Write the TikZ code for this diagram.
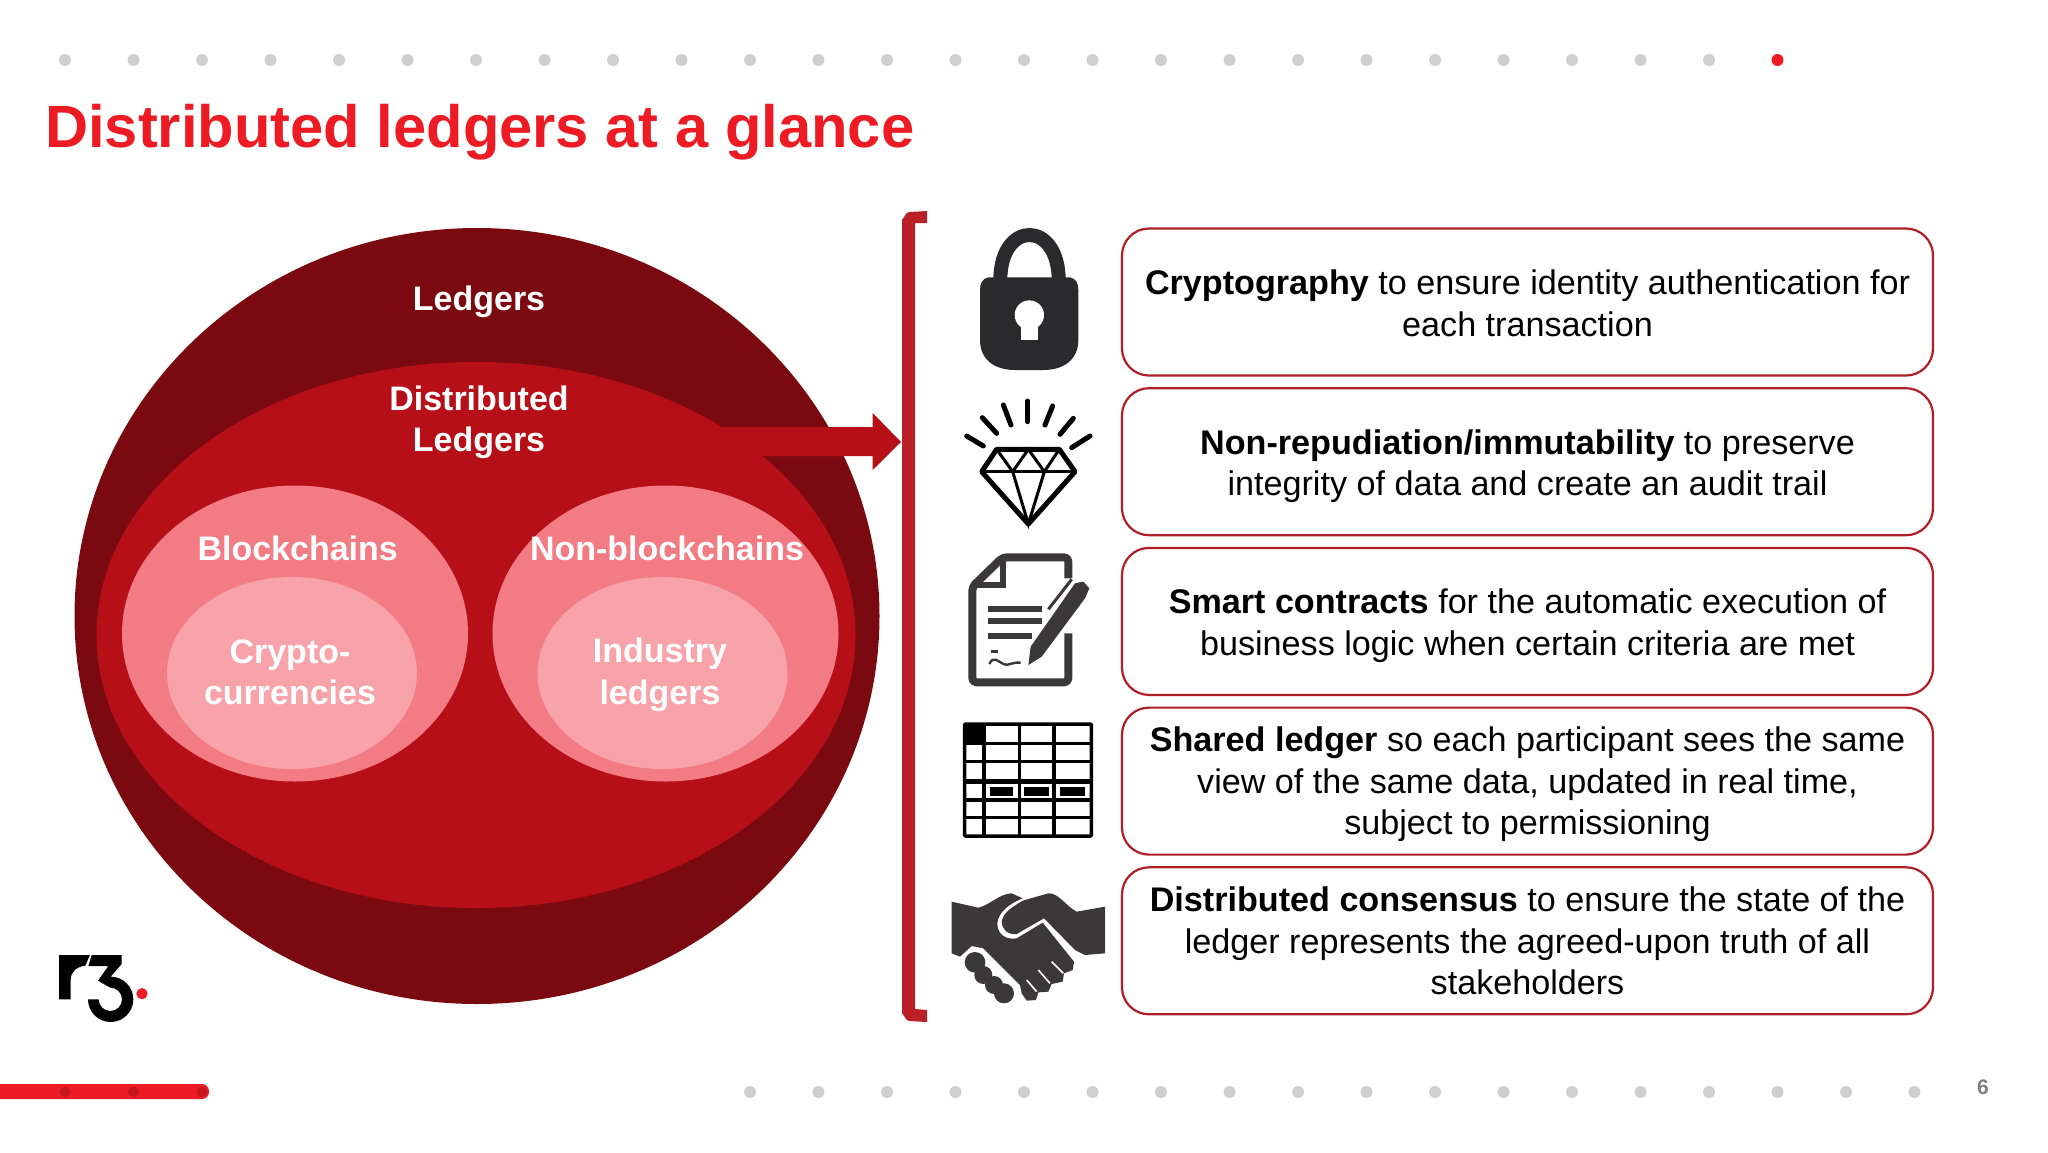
\documentclass[tikz,border=0pt]{standalone}
\usepackage{fontspec}
\setmainfont{Liberation Sans}
\usetikzlibrary{positioning,shapes.geometric}
\definecolor{slidered}{HTML}{ED1C24}
\definecolor{deepred}{HTML}{7B0A10}
\definecolor{midred}{HTML}{B70F17}
\definecolor{pinkred}{HTML}{F37B84}
\definecolor{lightred}{HTML}{F8A2A9}
\definecolor{bracketred}{HTML}{BB2026}
\definecolor{boxred}{HTML}{B01F28}
\definecolor{dotgrey}{HTML}{CFCFCF}
\definecolor{bardot}{HTML}{C8161D}
\definecolor{lockdark}{HTML}{2A292B}
\definecolor{icondark}{HTML}{3A3839}
\tikzset{
    % Define ledger ellipse style
    zone/.style={
           ellipse,
           inner sep=0pt,
           outer sep=0pt,},
    % Define label on the ellipses
    zonelabel/.style={
           text=white,
           inner sep=0pt,
           align=center,
           font=\fontsize{34}{41.5}\selectfont\bfseries,},
    % Define feature box style
    featurebox/.style={
           draw=boxred,
           line width=2.2pt,
           rounded corners=27pt,
           minimum width=811pt,
           minimum height=147pt,
           inner sep=0pt,},
    % Define text in a feature box
    featuretext/.style={
           inner sep=0pt,
           align=center,
           font=\fontsize{34.15}{41.5}\selectfont,}
}

\begin{document}
\begin{tikzpicture}[
x=1pt,y=-1pt,
dotnode/.style={circle, fill=dotgrey, inner sep=0pt, minimum size=12pt},
]
\useasboundingbox (0,0) rectangle (2048,1152);

%Header
\foreach \k in {0,...,24}{
  \node[dotnode](top\k) at ({65+68.5*\k},60){};
}
\node[dotnode,fill=slidered](topred) at (1777.5,60){};
\node[anchor=base west,inner sep=0pt,text=slidered,font=\fontsize{59.7}{72}\selectfont\bfseries](title) at (45,147){Distributed ledgers at a glance};

%Footer
\fill[slidered,rounded corners=7pt] (-10,1084) rectangle (209,1099);
\foreach \k in {0,1,2}{
  \node[dotnode,fill=bardot,minimum size=11pt](bar\k) at ({65+68.5*\k},1092){};
}
\foreach \k in {10,...,27}{
  \node[dotnode](bottom\k) at ({65+68.5*\k},1092){};
}
\node[text=black!50,font=\fontsize{21}{24}\selectfont\bfseries,inner sep=0pt](page) at (1983,1087){6};

%Ellipses
\node[zone,fill=deepred,minimum width=805pt,minimum height=776pt](ledgers) at (477,616){};
\node[zone,fill=midred,minimum width=759pt,minimum height=546pt](distributed) at (476,635){};
\node[zone,fill=pinkred,minimum width=346pt,minimum height=296pt](blockchains) at (295,633.5){};
\node[zone,fill=pinkred,minimum width=346pt,minimum height=296pt](nonblockchains) at (665.5,633.5){};
\node[zone,fill=lightred,minimum width=250pt,minimum height=192pt](crypto) at (292,673){};
\node[zone,fill=lightred,minimum width=250pt,minimum height=192pt](industry) at (662.5,673){};

%Block arrow
\fill[midred] (721,427) -- (872.7,427) -- (872.7,413) -- (901,442) -- (872.7,470) -- (872.7,456) -- (764,456) -- (700,456) -- (700,427) -- cycle;

%Labels
\node[zonelabel](ledgerstext) at (479,301.5){Ledgers};
\node[zonelabel](distributedtext) at (479,422.5){Distributed\\Ledgers};
\node[zonelabel](blocktext) at (297.7,548){Blockchains};
\node[zonelabel](nonblocktext) at (667,548){Non-blockchains};
\node[zonelabel](cryptotext) at (290,672.5){Crypto-\\currencies};
\node[zonelabel](industrytext) at (660,675){Industry\\ledgers};

%Bracket
\fill[bracketred] (927,211) -- (909,212) to[out=180,in=-90] (902,219) -- (902,1014) to[out=90,in=180] (909,1021) -- (927,1022) -- (927,1010) -- (915,1009) -- (915,223) -- (927,223) -- cycle;

%Feature boxes
\node[featurebox](crypbox) at (1527.5,302){};
\node[featurebox,below=10.5pt of crypbox](repubox){};
\node[featurebox,below=10.5pt of repubox](smartbox){};
\node[featurebox,below=10.5pt of smartbox](sharedbox){};
\node[featurebox,below=10.5pt of sharedbox](consbox){};

\node[featuretext,yshift=-1.5pt](cryptext) at (crypbox){\textbf{Cryptography} to ensure identity authentication for\\each transaction};
\node[featuretext,yshift=-4.5pt](reputext) at (repubox){\textbf{Non-repudiation/immutability} to preserve\\integrity of data and create an audit trail};
\node[featuretext,yshift=-4.5pt](smarttext) at (smartbox){\textbf{Smart contracts} for the automatic execution of\\business logic when certain criteria are met};
\node[featuretext,yshift=-3.5pt](sharedtext) at (sharedbox){\textbf{Shared ledger} so each participant sees the same\\view of the same data, updated in real time,\\subject to permissioning};
\node[featuretext](constext) at (consbox){\textbf{Distributed consensus} to ensure the state of the\\ledger represents the agreed-upon truth of all\\stakeholders};

%Icons, upper three
\begin{scope}[shift={(900,200)},scale=1/3]
  % lock
  \draw[line width=14pt,color=lockdark] (301,240) .. controls (301,60) and (476,60) .. (476,240);
  \fill[lockdark] (265,232) -- (510,232) .. controls (528,236) and (535,250) .. (535,270) -- (535,420) .. controls (535,480) and (490,510) .. (430,510) -- (345,510) .. controls (285,510) and (240,480) .. (240,420) -- (240,270) .. controls (240,250) and (247,236) .. (265,232) -- cycle;
  \fill[white] (388,345) circle (44);
  \fill[white] (362,345) rectangle (415,420);
  % diamond
  \foreach \xa/\ya/\xb/\yb in {200/708/250/738,247/653/290/700,310/615/333/675,383/603/383/665,458/618/435/675,520/655/480/703,570/708/515/743}{
    \draw[line width=5pt,line cap=round] (\xa,\ya) -- (\xb,\yb);
  }
  \draw[line width=5pt,line join=round] (290,748) -- (478,748) -- (525,815) -- (385,972) -- (245,815) -- cycle;
  \draw[line width=3pt] (245,815) -- (525,815);
  \draw[line width=3pt] (290,748) -- (338,815) -- (385,748) -- (433,815) -- (478,748);
  \draw[line width=3pt] (338,815) -- (385,972) -- (433,815);
  % contract
  \draw[line width=8pt,icondark,line join=round,rounded corners=4pt] (505,1135) -- (505,1072) -- (308,1072) -- (217,1160) -- (217,1447) -- (505,1447) -- (505,1300);
  \draw[line width=6pt,icondark] (308,1072) -- (308,1155) -- (217,1155);
  \draw[line width=6pt,icondark] (265,1228) -- (425,1228);
  \draw[line width=6pt,icondark] (265,1264) -- (425,1264);
  \draw[line width=6pt,icondark] (265,1307) -- (395,1307);
  \draw[line width=2.4pt,icondark] (268,1392) .. controls (280,1365) and (295,1385) .. (310,1392) .. controls (325,1400) and (335,1385) .. (362,1388);
  \draw[line width=2.4pt,icondark] (272,1354) -- (295,1354);
  \fill[icondark] (385,1395) -- (392,1340) -- (525,1150) -- (550,1145) -- (568,1165) -- (555,1195) -- (425,1370) -- cycle;
  \draw[line width=3pt,icondark] (445,1228) -- (515,1138);
\end{scope}

%Icons, lower two
\begin{scope}[shift={(900,680)},scale=1/3]
  % table
  \fill[black] (195,130) rectangle (252,190);
  \draw[line width=3.5pt,rounded corners=1pt] (194,132) rectangle (574,468);
  \foreach \vx in {252,358,462}{
    \draw[line width=3.5pt] (\vx,132) -- (\vx,468);
  }
  \foreach \hy in {190,245,360,412}{
    \draw[line width=3.5pt] (194,\hy) -- (574,\hy);
  }
  \draw[line width=5pt] (194,305) -- (574,305);
  \foreach \cx/\cy in {270/340,372/447,480/555}{
    \fill[black] (\cx,322) rectangle (\cy,347);
  }
  % handshake
  \fill[icondark] (155,665) -- (235,683) .. controls (270,675) and (300,640) .. (335,640) -- (368,655) .. controls (330,670) and (295,695) .. (292,730) .. controls (292,765) and (320,780) .. (350,775) -- (428,728) -- (522,845) -- (518,870) -- (492,880) -- (488,905) -- (455,912) -- (445,935) -- (415,937) -- (408,960) -- (380,962) -- (365,940) -- (360,915) -- (250,805) -- (215,798) -- (180,830) -- (155,820) -- cycle;
  \fill[icondark] (368,662) -- (445,640) .. controls (475,638) and (500,680) .. (530,695) -- (615,680) -- (615,820) -- (555,825) -- (525,810) -- (432,715) -- (350,762) .. controls (320,765) and (305,745) .. (305,725) .. controls (310,695) and (340,680) .. (368,662) -- cycle;
  \draw[white,line width=1.6pt] (380,900) -- (410,935);
  \draw[white,line width=1.6pt] (415,870) -- (450,910);
  \draw[white,line width=1.6pt] (455,845) -- (490,880);
  \foreach \fx/\fy/\fr in {225/847/31,250/885/27,282/915/27,312/940/30}{
    \fill[icondark] (\fx,\fy) circle (\fr);
  }
\end{scope}

%Logo
\begin{scope}[shift={(40,940)},scale=1/3]
  \fill[black] (57,45) -- (150,45) -- (136,77) .. controls (110,80) and (92,95) .. (92,120) -- (92,178) -- (57,178) -- cycle;
  \fill[black] (155,45) -- (245,45) -- (245,72) -- (212,110) arc[start angle=-90,end angle=180,radius=68] -- (176,178) arc[start angle=180,end angle=-90,radius=35] -- (174,122) -- (205,78) -- (145,78) -- cycle;
  \fill[slidered] (306,161) circle (17);
\end{scope}

\end{tikzpicture}
\end{document}
